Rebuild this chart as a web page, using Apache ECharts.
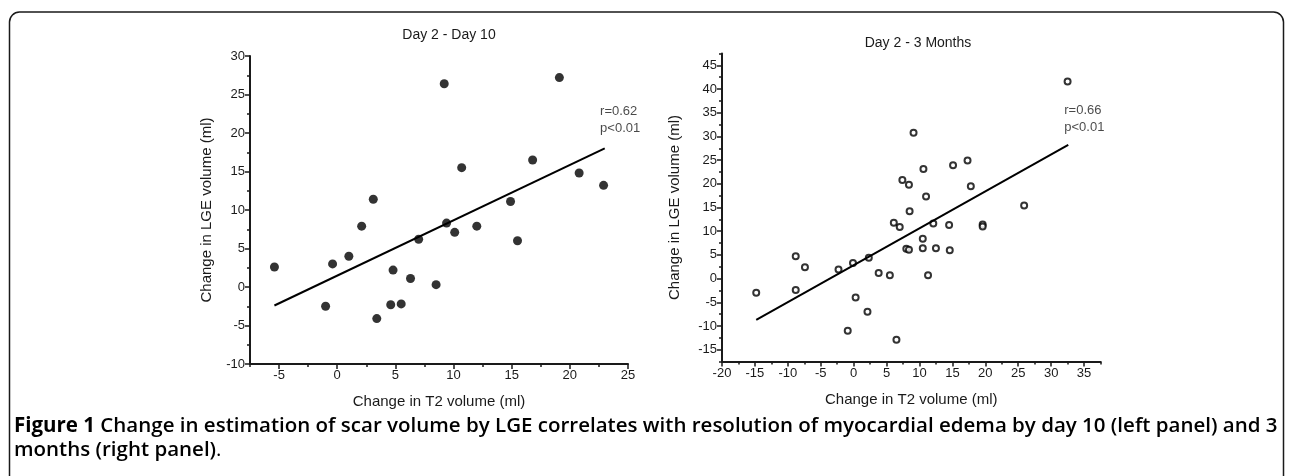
<!DOCTYPE html>
<html>
<head>
<meta charset="utf-8">
<title>Figure 1</title>
<script src="https://cdn.jsdelivr.net/npm/echarts@6/dist/echarts.min.js"></script>
<style>
  html, body { margin: 0; padding: 0; background: #fff; }
  .box { width: 1290px; height: 476px; }
</style>
</head>
<body>
<div class="box"></div>
<script>
// 左图：Day 2 - Day 10（实心点）
var leftX = [-5.4, -1.0, -0.4, 1.0, 2.1, 3.1, 3.4, 4.6, 4.8, 5.5, 6.3, 7.0,
             8.5, 9.2, 9.4, 10.1, 10.7, 12.0, 14.9, 15.5, 16.8, 19.1, 20.8, 22.9];
var leftY = [2.6, -2.5, 3.0, 4.0, 7.9, 11.4, -4.1, -2.3, 2.2, -2.2, 1.1, 6.2,
             0.3, 26.4, 8.3, 7.1, 15.5, 7.9, 11.1, 6.0, 16.5, 27.2, 14.8, 13.2];
var leftFit = [[-5.4, -2.4], [23.0, 18.0]];
var leftNote = [22.6, 23.9];

// 右图：Day 2 - 3 Months（空心圈）
var rightX = [-14.8, -8.8, -7.4, -8.8, -2.3, -0.1, 2.3, 0.3, -0.9, 2.1, 3.8, 5.5,
              6.5, 8.0, 8.4, 10.5, 10.5, 11.3, 12.5, 14.6, 6.1, 7.0, 12.1, 14.5,
              8.5, 11.0, 7.4, 8.4, 10.6, 9.1, 15.1, 17.3, 17.8, 25.9, 19.6, 19.6, 32.5];
var rightY = [-3.0, 4.7, 2.4, -2.4, 1.9, 3.3, 4.4, -4.0, -11.0, -7.0, 1.2, 0.7,
              -12.9, 6.3, 6.1, 8.4, 6.4, 0.7, 6.4, 6.0, 11.8, 10.9, 11.6, 11.3,
              14.2, 17.3, 20.8, 19.8, 23.1, 30.8, 23.9, 24.9, 19.5, 15.4, 11.4, 11.0, 41.6];
var rightFit = [[-14.8, -8.7], [32.6, 28.2]];
var rightNote = [32.0, 37.3];

// 刻度
var leftXTicks = [-5, 0, 5, 10, 15, 20, 25];
var leftXMinor = [-7.5, -2.5, 2.5, 7.5, 12.5, 17.5, 22.5];
var leftYTicks = [-10, -5, 0, 5, 10, 15, 20, 25, 30];
var leftYMinor = [-7.5, -2.5, 2.5, 7.5, 12.5, 17.5, 22.5, 27.5];
var rightXTicks = [-20, -15, -10, -5, 0, 5, 10, 15, 20, 25, 30, 35];
var rightXMinor = [-17.5, -12.5, -7.5, -2.5, 2.5, 7.5, 12.5, 17.5, 22.5, 27.5, 32.5, 37.5];
var rightYTicks = [-15, -10, -5, 0, 5, 10, 15, 20, 25, 30, 35, 40, 45];
var rightYMinor = [-17.5, -12.5, -7.5, -2.5, 2.5, 7.5, 12.5, 17.5, 22.5, 27.5, 32.5, 37.5, 42.5, 47.5];

var xName = "Change in T2 volume (ml)";
var yName = "Change in LGE volume (ml)";
var captionBold = "Figure 1";
var captionLine1 = " Change in estimation of scar volume by LGE correlates with resolution of myocardial edema by day 10 (left panel) and 3";
var captionLine2 = "months (right panel)";

(function () {
    var myChart = echarts.init(document.querySelector(".box"));
    var ink = "#1a1a1a";
    var font = "Liberation Sans";

    function zip(xs, ys) {
        return xs.map(function (x, i) { return [x, ys[i]]; });
    }

    // 主刻度轴（带标签）
    function mainAxis(dim, grid, min, max, ticks, name, gap) {
        return {
            type: "value",
            gridIndex: grid,
            position: dim === "x" ? "bottom" : "left",
            min: min,
            max: max,
            name: name,
            nameLocation: "middle",
            nameGap: gap,
            nameTextStyle: { color: ink, fontFamily: font, fontSize: 15 },
            axisLine: { show: true, onZero: false, lineStyle: { color: ink, width: 2 } },
            axisTick: { show: true, length: 5, customValues: ticks, lineStyle: { color: ink, width: 1.5 } },
            axisLabel: { show: true, customValues: ticks, color: ink, fontFamily: font, fontSize: 13, margin: 5 },
            splitLine: { show: false }
        };
    }

    // 次刻度轴（只画短刻度）
    function minorAxis(dim, grid, min, max, ticks) {
        return {
            type: "value",
            gridIndex: grid,
            position: dim === "x" ? "bottom" : "left",
            min: min,
            max: max,
            axisLine: { show: false, onZero: false },
            axisTick: { show: true, length: 3, customValues: ticks, lineStyle: { color: ink, width: 1.5 } },
            axisLabel: { show: false },
            splitLine: { show: false }
        };
    }

    function noteSeries(xi, yi, point, text) {
        return {
            type: "scatter",
            xAxisIndex: xi,
            yAxisIndex: yi,
            symbolSize: 0,
            silent: true,
            data: [point],
            label: {
                show: true,
                position: [0, 0],
                align: "left",
                verticalAlign: "top",
                color: ink,
                fontFamily: font,
                fontSize: 13,
                lineHeight: 17,
                formatter: text
            }
        };
    }

    var option = {
        animation: false,
        title: [
            { text: "Day 2 - Day 10", left: 444, top: 23, textAlign: "center",
              textStyle: { color: ink, fontFamily: font, fontSize: 14, fontWeight: "normal" } },
            { text: "Day 2 - 3 Months", left: 913, top: 31, textAlign: "center",
              textStyle: { color: ink, fontFamily: font, fontSize: 14, fontWeight: "normal" } }
        ],
        grid: [
            { left: 250, top: 56, width: 378, height: 308 },
            { left: 722, top: 53.5, width: 378.5, height: 308 }
        ],
        xAxis: [
            mainAxis("x", 0, -7.5, 25, leftXTicks, xName, 30),
            minorAxis("x", 0, -7.5, 25, leftXMinor),
            mainAxis("x", 1, -20, 37.5, rightXTicks, xName, 31),
            minorAxis("x", 1, -20, 37.5, rightXMinor)
        ],
        yAxis: [
            mainAxis("y", 0, -10, 30, leftYTicks, yName, 36),
            minorAxis("y", 0, -10, 30, leftYMinor),
            mainAxis("y", 1, -17.5, 47.5, rightYTicks, yName, 40),
            minorAxis("y", 1, -17.5, 47.5, rightYMinor)
        ],
        series: [
            {
                type: "line",
                xAxisIndex: 0,
                yAxisIndex: 0,
                data: leftFit,
                symbol: "none",
                silent: true,
                lineStyle: { color: "#000", width: 2 }
            },
            {
                type: "scatter",
                xAxisIndex: 0,
                yAxisIndex: 0,
                data: zip(leftX, leftY),
                symbol: "circle",
                symbolSize: 9,
                itemStyle: { color: "#000" }
            },
            noteSeries(0, 0, leftNote, "r=0.62\np<0.01"),
            {
                type: "line",
                xAxisIndex: 2,
                yAxisIndex: 2,
                data: rightFit,
                symbol: "none",
                silent: true,
                lineStyle: { color: "#000", width: 2 }
            },
            {
                type: "scatter",
                xAxisIndex: 2,
                yAxisIndex: 2,
                data: zip(rightX, rightY),
                symbol: "circle",
                symbolSize: 6,
                itemStyle: { color: "#fff", borderColor: "#000", borderWidth: 2 }
            },
            noteSeries(2, 2, rightNote, "r=0.66\np<0.01")
        ],
        graphic: [
            {
                type: "rect",
                shape: { x: 9.5, y: 12, width: 1274, height: 500, r: [10, 10, 0, 0] },
                style: { fill: "none", stroke: ink, lineWidth: 1.5 },
                silent: true
            },
            {
                type: "text",
                left: 14,
                top: 416,
                style: {
                    text: "{b|" + captionBold + "}{s|" + captionLine1 + "}\n{s|" + captionLine2 + "}{n|.}",
                    rich: {
                        b: { fontFamily: "Open Sans", fontSize: 20.5, fontWeight: 700, fill: "#000", lineHeight: 24 },
                        s: { fontFamily: "Open Sans", fontSize: 20.5, fontWeight: 600, fill: "#000", lineHeight: 24 },
                        n: { fontFamily: "Open Sans", fontSize: 20.5, fontWeight: 400, fill: "#000", lineHeight: 24 }
                    }
                },
                silent: true
            }
        ]
    };

    myChart.setOption(option);

    window.addEventListener("resize", function () {
        myChart.resize();
    });
})();
</script>
</body>
</html>
